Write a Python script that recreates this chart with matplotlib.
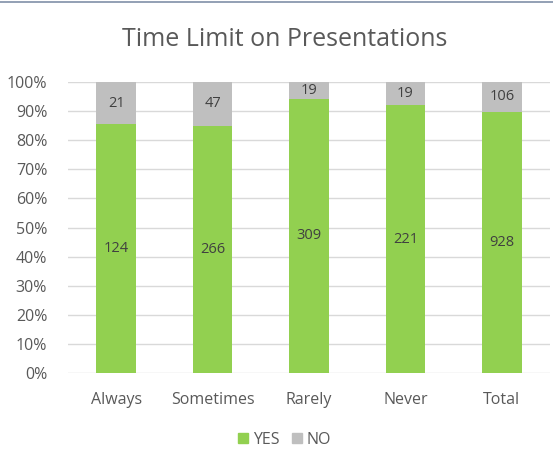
import matplotlib
matplotlib.use("Agg")
import matplotlib.pyplot as plt
from matplotlib.lines import Line2D
import numpy as np

categories = ["Always", "Sometimes", "Rarely", "Never", "Total"]
yes_counts = [124, 266, 309, 221, 928]
no_counts = [21, 47, 19, 19, 106]
yticks = [0, 10, 20, 30, 40, 50, 60, 70, 80, 90, 100]
title = "Time Limit on Presentations"

GREEN = "#92d050"
GREY = "#bfbfbf"
TXT = "#595959"
FONT = ["Open Sans", "DejaVu Sans"]

plt.rcParams["font.family"] = FONT

yes = np.array(yes_counts, float)
no = np.array(no_counts, float)
tot = yes + no
yes_p = yes / tot * 100
no_p = no / tot * 100

fig = plt.figure(figsize=(5.53, 4.55), dpi=100)
ax = fig.add_axes([68/553, 1 - 373/455, (550 - 68)/553, (373 - 82)/455])

x = np.arange(len(categories))
w = 0.41
ax.bar(x, yes_p, w, color=GREEN, zorder=2, label="YES")
ax.bar(x, no_p, w, bottom=yes_p, color=GREY, zorder=2, label="NO")

for i in range(len(x)):
    ax.text(x[i], yes_p[i] / 2, str(yes_counts[i]), ha="center", va="center",
            fontsize=10.5, color="#404040", zorder=3)
    ax.text(x[i], yes_p[i] + no_p[i] / 2, str(no_counts[i]), ha="center", va="center",
            fontsize=10.5, color="#404040", zorder=3)

ax.set_xlim(-0.5, len(categories) - 0.5)
ax.set_ylim(0, 100)
ax.set_yticks(yticks)
ax.set_yticklabels([f"{t}%" for t in yticks])
ax.set_xticks(x)
ax.set_xticklabels(categories)
ax.tick_params(axis="both", length=0, colors=TXT, labelsize=11.5)
ax.tick_params(axis="y", pad=15)
ax.tick_params(axis="x", pad=14)
ax.yaxis.grid(True, color="#d9d9d9", linewidth=1, zorder=0)
for s in ax.spines.values():
    s.set_visible(False)

fig.text(285/553, 1 - 40/455, title, ha="center", va="center", fontsize=18, color=TXT)

handles = [Line2D([], [], marker="s", linestyle="none", markersize=7, color=GREEN),
           Line2D([], [], marker="s", linestyle="none", markersize=7, color=GREY)]
fig.legend(handles, ["YES", "NO"], loc="center", bbox_to_anchor=(283/553, 1 - 440/455),
           ncol=2, frameon=False, fontsize=11.5, labelcolor=TXT, handletextpad=0.1,
           columnspacing=0.6, handlelength=1.0)

fig.add_artist(Line2D([0, 1], [1 - 2/455, 1 - 2/455], color="#8090a8", linewidth=1.2))

fig.savefig("out.png", dpi=100, facecolor="white")
